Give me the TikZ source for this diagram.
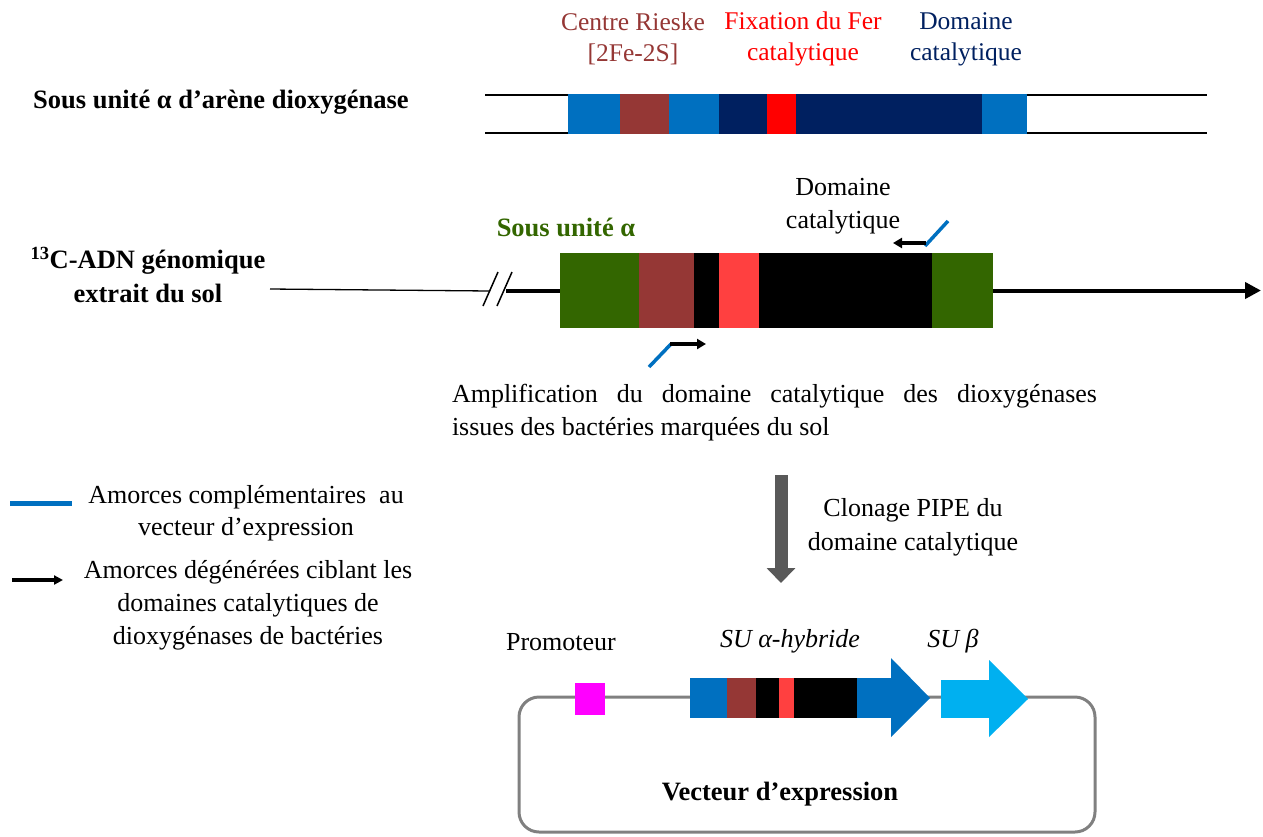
\documentclass[tikz,border=0pt]{standalone}
\usepackage{fontspec}
\setmainfont{Liberation Serif}
\usetikzlibrary{arrows.meta}
\definecolor{cblue}{HTML}{0070C0}
\definecolor{cbrown}{HTML}{953735}
\definecolor{cnavy}{HTML}{002060}
\definecolor{cred}{HTML}{FF0000}
\definecolor{cred2}{HTML}{FF4040}
\definecolor{cgreen}{HTML}{336600}
\definecolor{cmag}{HTML}{FF00FF}
\definecolor{clight}{HTML}{00B0F0}
\definecolor{cgray}{HTML}{808080}
\definecolor{cdgray}{HTML}{595959}
\begin{document}
\begin{tikzpicture}[x=1pt,y=-1pt,
  seg/.style={rectangle, inner sep=0pt, outer sep=0pt, draw=none, anchor=north west},
  lbl/.style={inner sep=0pt, align=center, font=\fontsize{26}{33}\selectfont},
  toplbl/.style={lbl, font=\fontsize{25.5}{31}\selectfont},
  blbl/.style={lbl, font=\fontsize{26.5}{34}\selectfont\bfseries},
  blueprimer/.style={draw=cblue, line width=3.5pt},
  blackprimer/.style={draw=black, line width=4pt, -{Triangle[length=9pt,width=10pt]}},
  dna/.style={draw=black, line width=4pt}]
\useasboundingbox (0,0) rectangle (1263,836);

% ---------- top : sous unite alpha ----------
\node[toplbl, text=cbrown] (tRieske) at (633,39) {Centre Rieske\\{[2Fe-2S]}};
\node[toplbl, text=cred] (tFer) at (803,39) {Fixation du Fer\\catalytique};
\node[toplbl, text=cnavy] (tDom) at (966,39) {Domaine\\catalytique};
\node[blbl, anchor=west] (tSU) at (33,102) {Sous unité α d’arène dioxygénase};

\coordinate (L1a) at (485,95); \coordinate (L1b) at (1207,95);
\coordinate (L2a) at (485,133); \coordinate (L2b) at (1207,133);
\draw[line width=2.5pt] (L1a) -- (L1b);
\draw[line width=2.5pt] (L2a) -- (L2b);

\node[seg, fill=cblue, minimum width=52pt, minimum height=40pt] (a1) at (568,94) {};
\node[seg, fill=cbrown, minimum width=49pt, minimum height=40pt] (a2) at (620,94) {};
\node[seg, fill=cblue, minimum width=50pt, minimum height=40pt] (a3) at (669,94) {};
\node[seg, fill=cnavy, minimum width=48pt, minimum height=40pt] (a4) at (719,94) {};
\node[seg, fill=cred, minimum width=29pt, minimum height=40pt] (a5) at (767,94) {};
\node[seg, fill=cnavy, minimum width=186pt, minimum height=40pt] (a6) at (796,94) {};
\node[seg, fill=cblue, minimum width=45pt, minimum height=40pt] (a7) at (982,94) {};

% ---------- middle : ADN genomique ----------
\node[blbl] (t13C) at (148,275) {\textsuperscript{13}C-ADN génomique\\extrait du sol};
\node[blbl, text=cgreen] (tSUa) at (566,227) {Sous unité α};
\node[lbl] (tDom2) at (843,206.5) {Domaine\\catalytique};

\coordinate (thinA) at (270,289);
\coordinate (thinB) at (490,291);
\draw[line width=1.3pt] (thinA) -- (thinB);
\draw[line width=1.5pt] (483,306) -- (498,272);
\draw[line width=1.5pt] (497,306) -- (512,272);
\coordinate (brk) at (506,290.5);

\node[seg, fill=cgreen, minimum width=79pt, minimum height=75pt] (b1) at (560,253) {};
\node[seg, fill=cbrown, minimum width=55pt, minimum height=75pt] (b2) at (639,253) {};
\node[seg, fill=black, minimum width=25pt, minimum height=75pt] (b3) at (694,253) {};
\node[seg, fill=cred2, minimum width=40pt, minimum height=75pt] (b4) at (719,253) {};
\node[seg, fill=black, minimum width=173pt, minimum height=75pt] (b5) at (759,253) {};
\node[seg, fill=cgreen, minimum width=61pt, minimum height=75pt] (b6) at (932,253) {};

\coordinate (dnaEnd) at (1261,290.5);
\draw[dna] (brk) -- (b1.west);
\draw[dna, -{Triangle[length=16pt,width=16pt]}] (b6.east) -- (dnaEnd);

% primers
\coordinate (rb1) at (925,246); \coordinate (rb2) at (948,221);
\coordinate (ra1) at (926,243); \coordinate (ra2) at (893,243);
\draw[blueprimer] (rb1) -- (rb2);
\draw[blackprimer] (ra1) -- (ra2);
\coordinate (fb1) at (649,367); \coordinate (fb2) at (671,344);
\coordinate (fa1) at (670,344); \coordinate (fa2) at (706,344);
\draw[blueprimer] (fb1) -- (fb2);
\draw[blackprimer] (fa1) -- (fa2);

\node[lbl, text width=645pt, align=justify] (tAmp) at (774.5,413)
  {\hyphenpenalty=10000 Amplification du domaine catalytique des dioxygénases\linebreak issues des bactéries marquées du sol};

% gray arrow
\coordinate (g1) at (781,475); \coordinate (g2) at (781,583);
\draw[draw=cdgray, line width=13pt, -{Triangle[length=15pt,width=28pt]}] (g1) -- (g2);
\node[lbl, font=\fontsize{26}{34}\selectfont] (tClon) at (913,527) {Clonage PIPE du\\domaine catalytique};

% ---------- legend ----------
\coordinate (lg1a) at (10,503); \coordinate (lg1b) at (72,503);
\draw[draw=cblue, line width=5pt] (lg1a) -- (lg1b);
\node[lbl, font=\fontsize{26}{32}\selectfont] (tLeg1) at (246,513) {Amorces complémentaires\ \ au\\vecteur d’expression};
\coordinate (lg2a) at (12,580); \coordinate (lg2b) at (63,580);
\draw[draw=black, line width=3.5pt, -{Triangle[length=9pt,width=9pt]}] (lg2a) -- (lg2b);
\node[lbl] (tLeg2) at (248,605) {Amorces dégénérées ciblant les\\domaines catalytiques de\\dioxygénases de bactéries};

% ---------- bottom : vecteur ----------
\draw[draw=cgray, line width=3pt, rounded corners=20pt] (519,697) rectangle (1095,832);
\node[seg, fill=cmag, minimum width=30pt, minimum height=32pt] (prom) at (575,683) {};
\node[seg, fill=cblue, minimum width=37pt, minimum height=40pt] (c1) at (690,678) {};
\node[seg, fill=cbrown, minimum width=29pt, minimum height=40pt] (c2) at (727,678) {};
\node[seg, fill=black, minimum width=23pt, minimum height=40pt] (c3) at (756,678) {};
\node[seg, fill=cred2, minimum width=15pt, minimum height=40pt] (c4) at (779,678) {};
\node[seg, fill=black, minimum width=63pt, minimum height=40pt] (c5) at (794,678) {};
\node[seg, fill=cblue, minimum width=35pt, minimum height=40pt] (c6) at (857,678) {};
\fill[cblue] (891,658) -- (930,698) -- (891,737) -- cycle;
\node[seg, fill=clight, minimum width=49pt, minimum height=38pt] (d1) at (941,680) {};
\fill[clight] (989,660) -- (1028,699) -- (989,737) -- cycle;

\node[lbl] (tProm) at (561,642) {Promoteur};
\node[lbl, font=\fontsize{26}{32}\selectfont\itshape] (tSUah) at (790,641) {SU α-hybride};
\node[lbl, font=\fontsize{26}{32}\selectfont\itshape] (tSUb) at (953,641) {SU β};
\node[blbl] (tVec) at (780,794) {Vecteur d’expression};
\end{tikzpicture}
\end{document}
